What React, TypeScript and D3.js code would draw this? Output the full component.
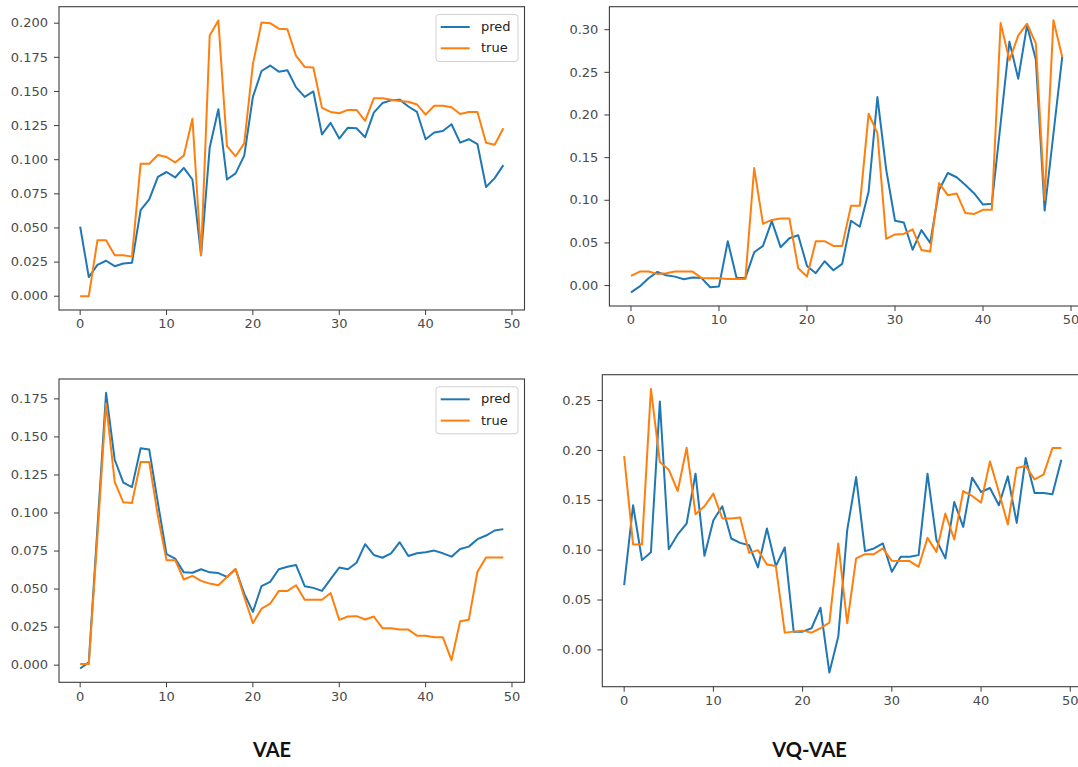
import React from "react";
import * as d3 from "d3";

// Series values per time step (0..49)
const vaeTopPred = [
  0.051, 0.014, 0.023, 0.026, 0.022, 0.024, 0.0245, 0.063, 0.071, 0.0875,
  0.091, 0.087, 0.094, 0.0855, 0.03, 0.109, 0.137, 0.0855, 0.09, 0.103,
  0.146, 0.165, 0.169, 0.1645, 0.1655, 0.153, 0.146, 0.15, 0.1185, 0.127,
  0.1155, 0.1235, 0.123, 0.1165, 0.1345, 0.1415, 0.1435, 0.144, 0.139, 0.135,
  0.115, 0.12, 0.121, 0.126, 0.1125, 0.115, 0.1115, 0.08, 0.0865, 0.096,
];
const vaeTopTrue = [
  0.0, 0.0, 0.041, 0.041, 0.03, 0.03, 0.029, 0.097, 0.097, 0.1035,
  0.102, 0.098, 0.103, 0.13, 0.03, 0.191, 0.202, 0.11, 0.1025, 0.112,
  0.17, 0.2005, 0.2, 0.196, 0.1955, 0.176, 0.168, 0.1675, 0.138, 0.135,
  0.134, 0.1365, 0.1365, 0.1285, 0.145, 0.145, 0.144, 0.143, 0.1425, 0.1405,
  0.133, 0.1395, 0.1395, 0.1385, 0.1335, 0.135, 0.135, 0.1125, 0.111, 0.123,
];
const vqTopPred = [
  -0.008, -0.001, 0.0086, 0.016, 0.012, 0.0105, 0.0075, 0.0094, 0.009, -0.002,
  -0.001, 0.052, 0.009, 0.009, 0.039, 0.0465, 0.0755, 0.045, 0.0555, 0.059,
  0.023, 0.0145, 0.0285, 0.018, 0.0255, 0.076, 0.069, 0.11, 0.221, 0.136,
  0.076, 0.074, 0.042, 0.065, 0.05, 0.112, 0.132, 0.127, 0.118, 0.108,
  0.095, 0.0958, 0.19, 0.286, 0.2425, 0.305, 0.265, 0.088, 0.178, 0.268,
];
const vqTopTrue = [
  0.0113, 0.0164, 0.0164, 0.0137, 0.0145, 0.0164, 0.0164, 0.0164, 0.009, 0.0086,
  0.0086, 0.0078, 0.0078, 0.0078, 0.1377, 0.0724, 0.077, 0.0786, 0.0786, 0.0203,
  0.0106, 0.052, 0.052, 0.0465, 0.0465, 0.0935, 0.0935, 0.2014, 0.1787, 0.0548,
  0.06, 0.0606, 0.066, 0.0418, 0.04, 0.12, 0.106, 0.108, 0.085, 0.084,
  0.0888, 0.0888, 0.3078, 0.264, 0.293, 0.307, 0.284, 0.1005, 0.311, 0.268,
];
const vaeBottomPred = [
  -0.0022, 0.0018, 0.09, 0.179, 0.135, 0.12, 0.117, 0.1426, 0.1417, 0.1066,
  0.073, 0.07, 0.061, 0.0607, 0.063, 0.061, 0.0605, 0.058, 0.063, 0.047,
  0.035, 0.052, 0.0547, 0.063, 0.0647, 0.0658, 0.0519, 0.0508, 0.0488, 0.0565,
  0.0642, 0.063, 0.0673, 0.0795, 0.0724, 0.0706, 0.0735, 0.0808, 0.0717, 0.0735,
  0.0742, 0.0753, 0.0735, 0.0713, 0.0764, 0.0779, 0.0828, 0.0852, 0.0885, 0.0894,
];
const vaeBottomTrue = [
  0.0007, 0.0007, 0.085, 0.172, 0.1205, 0.107, 0.1066, 0.1335, 0.1335, 0.098,
  0.069, 0.069, 0.0563, 0.0587, 0.0554, 0.0536, 0.0525, 0.058, 0.0633, 0.0448,
  0.0276, 0.0371, 0.0404, 0.0488, 0.0488, 0.0525, 0.043, 0.043, 0.043, 0.0474,
  0.0298, 0.032, 0.0322, 0.03, 0.032, 0.0243, 0.0243, 0.0234, 0.0234, 0.0194,
  0.0194, 0.0183, 0.0183, 0.0033, 0.0289, 0.0298, 0.0614, 0.0708, 0.0708, 0.0708,
];
const vqBottomPred = [
  0.065, 0.145, 0.09, 0.098, 0.249, 0.101, 0.1157, 0.1267, 0.1767, 0.0943,
  0.13, 0.144, 0.1117, 0.1073, 0.105, 0.0827, 0.1217, 0.084, 0.1027, 0.0183,
  0.0183, 0.0217, 0.0423, -0.0227, 0.0133, 0.12, 0.1733, 0.099, 0.1017, 0.1067,
  0.0783, 0.0933, 0.0933, 0.095, 0.1767, 0.11, 0.0917, 0.1483, 0.1233, 0.1727,
  0.1583, 0.1623, 0.145, 0.174, 0.1273, 0.1923, 0.1573, 0.1573, 0.156, 0.1907,
];
const vqBottomTrue = [
  0.1943, 0.1057, 0.1057, 0.2617, 0.1883, 0.1807, 0.1593, 0.2027, 0.136, 0.144,
  0.1567, 0.1317, 0.1317, 0.1327, 0.0973, 0.1, 0.0857, 0.084, 0.0173, 0.0183,
  0.0193, 0.0173, 0.0217, 0.0273, 0.1067, 0.0267, 0.0917, 0.096, 0.096, 0.1017,
  0.0893, 0.089, 0.089, 0.0833, 0.1123, 0.0983, 0.1367, 0.1107, 0.1593, 0.1543,
  0.1477, 0.189, 0.1583, 0.1257, 0.1823, 0.1843, 0.171, 0.1757, 0.2023, 0.2023,
];

// Tick labels
const xTicks = [0, 10, 20, 30, 40, 50];
const vaeTopTicks = [0, 0.025, 0.05, 0.075, 0.1, 0.125, 0.15, 0.175, 0.2];
const vqTopTicks = [0, 0.05, 0.1, 0.15, 0.2, 0.25, 0.3];
const vaeBottomTicks = [0, 0.025, 0.05, 0.075, 0.1, 0.125, 0.15, 0.175];
const vqBottomTicks = [0, 0.05, 0.1, 0.15, 0.2, 0.25];
const legendLabels = ["pred", "true"];
const columnTitles = ["VAE", "VQ-VAE"];

const BLUE = "#1f77b4";
const ORANGE = "#ff7f0e";
const TICK_FONT = "'DejaVu Sans', sans-serif";

type Frame = { left: number; right: number; top: number; bottom: number };

function Panel(props: {
  frame: Frame;
  pred: number[];
  truth: number[];
  yTicks: number[];
  digits: number;
  legend?: boolean;
}) {
  const { frame, pred, truth, yTicks, digits, legend } = props;
  const n = pred.length;
  const xPad = (n - 1) * 0.05;
  const x = d3
    .scaleLinear()
    .domain([-xPad, n - 1 + xPad])
    .range([frame.left, frame.right]);
  const [lo, hi] = d3.extent(pred.concat(truth)) as [number, number];
  const yPad = (hi - lo) * 0.05;
  const y = d3
    .scaleLinear()
    .domain([lo - yPad, hi + yPad])
    .range([frame.bottom, frame.top]);
  const line = d3
    .line<number>()
    .x((_, i) => x(i))
    .y((d) => y(d));
  const fmt = d3.format(`.${digits}f`);

  const lx = frame.right - 88.5;
  const ly = frame.top + 7.8;

  return (
    <g>
      <path d={line(pred) ?? ""} fill="none" stroke={BLUE} strokeWidth={2} strokeLinejoin="round" />
      <path d={line(truth) ?? ""} fill="none" stroke={ORANGE} strokeWidth={2} strokeLinejoin="round" />
      <rect
        x={frame.left}
        y={frame.top}
        width={frame.right - frame.left}
        height={frame.bottom - frame.top}
        fill="none"
        stroke="#3c3c3c"
        strokeWidth={1.1}
      />
      {xTicks.map((t) => (
        <g key={`x${t}`} transform={`translate(${x(t)},${frame.bottom})`}>
          <line y1={0} y2={5} stroke="#3c3c3c" strokeWidth={1} />
          <text
            y={9}
            dy="0.71em"
            textAnchor="middle"
            fontFamily={TICK_FONT}
            fontSize={13}
            fill="#4a4a4a"
          >
            {t}
          </text>
        </g>
      ))}
      {yTicks.map((t) => (
        <g key={`y${t}`} transform={`translate(${frame.left},${y(t)})`}>
          <line x1={0} x2={-5} stroke="#3c3c3c" strokeWidth={1} />
          <text
            x={-11}
            dy="0.32em"
            textAnchor="end"
            fontFamily={TICK_FONT}
            fontSize={13}
            fill="#4a4a4a"
          >
            {fmt(t)}
          </text>
        </g>
      ))}
      {legend && (
        <g>
          <rect x={lx} y={ly} width={82} height={47} rx={3} fill="white" fillOpacity={0.85} stroke="#d0d0d0" />
          {legendLabels.map((label, i) => {
            const cy = ly + 12.5 + i * 21.3;
            return (
              <g key={label}>
                <line x1={lx + 4.7} x2={lx + 33.7} y1={cy} y2={cy} stroke={i === 0 ? BLUE : ORANGE} strokeWidth={2} />
                <text
                  x={lx + 45}
                  y={cy}
                  dy="0.32em"
                  fontFamily={TICK_FONT}
                  fontSize={13}
                  fill="#222"
                >
                  {label}
                </text>
              </g>
            );
          })}
        </g>
      )}
    </g>
  );
}

export default function App() {
  return (
    <>
      <style>{`body{margin:0}`}</style>
      <svg width={1078} height={767} style={{ display: "block", background: "white" }}>
        <Panel
          frame={{ left: 59, right: 524.5, top: 6.7, bottom: 310 }}
          pred={vaeTopPred}
          truth={vaeTopTrue}
          yTicks={vaeTopTicks}
          digits={3}
          legend
        />
        <Panel
          frame={{ left: 609.4, right: 1083.8, top: 6.7, bottom: 306 }}
          pred={vqTopPred}
          truth={vqTopTrue}
          yTicks={vqTopTicks}
          digits={2}
        />
        <Panel
          frame={{ left: 59, right: 524.5, top: 379, bottom: 682.3 }}
          pred={vaeBottomPred}
          truth={vaeBottomTrue}
          yTicks={vaeBottomTicks}
          digits={3}
          legend
        />
        <Panel
          frame={{ left: 602.3, right: 1083.2, top: 374.7, bottom: 686.7 }}
          pred={vqBottomPred}
          truth={vqBottomTrue}
          yTicks={vqBottomTicks}
          digits={2}
        />
        {columnTitles.map((title, i) => (
          <text
            key={title}
            x={i === 0 ? 272 : 809.6}
            y={757}
            textAnchor="middle"
            fontFamily="Lato, 'Open Sans', sans-serif"
            fontWeight={700}
            fontSize={20}
            fill="#111"
          >
            {title}
          </text>
        ))}
      </svg>
    </>
  );
}
